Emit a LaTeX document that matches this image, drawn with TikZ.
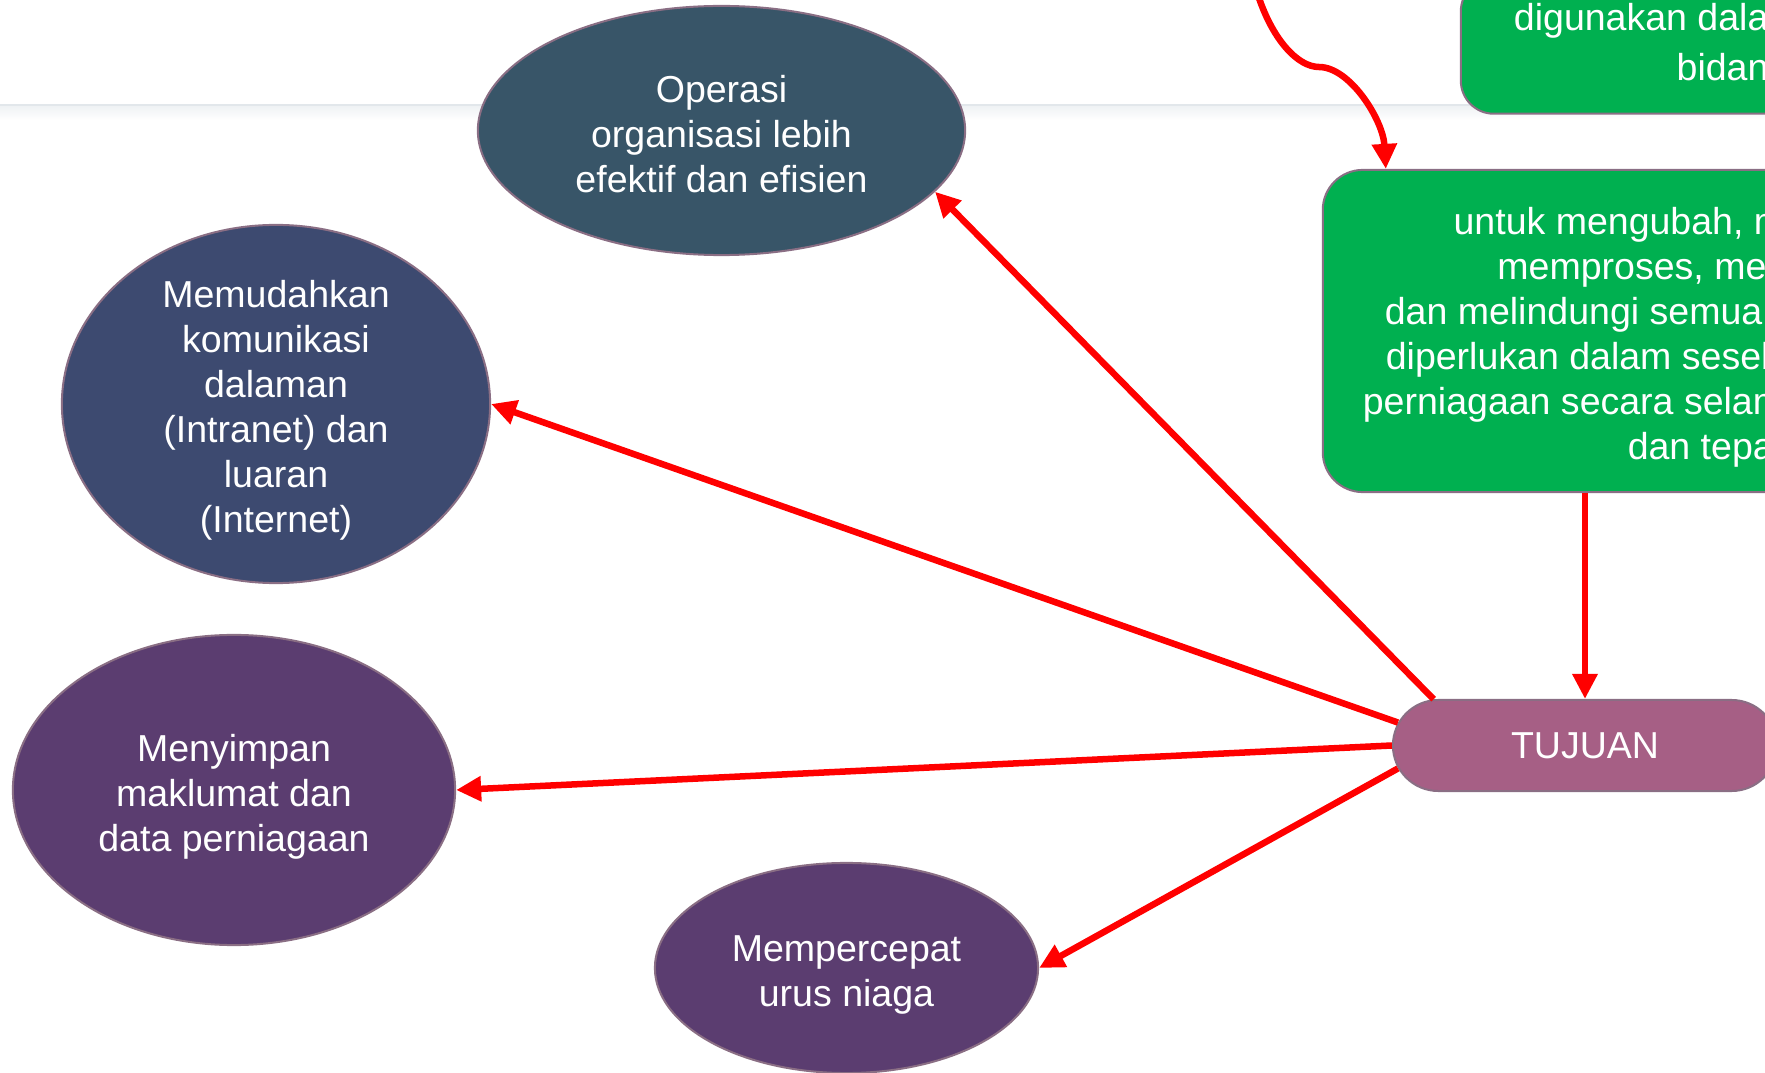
\documentclass[tikz,border=0pt]{standalone}
\usepackage{fontspec}
\setmainfont{Liberation Sans}
\usetikzlibrary{shapes.geometric, shapes.misc, arrows.meta}
\definecolor{opsblue}{RGB}{56,85,104}
\definecolor{komblue}{RGB}{61,74,112}
\definecolor{plum}{RGB}{91,61,112}
\definecolor{goalpink}{RGB}{166,95,133}
\definecolor{infogreen}{RGB}{0,176,80}
\definecolor{edgemauve}{RGB}{138,110,132}
\definecolor{arrowred}{RGB}{255,0,0}
\definecolor{rulegrey}{RGB}{226,231,235}
% taller first line, so the text sits a little lower
\newcommand{\firstlift}[1][11.5pt]{\rule{0pt}{#1}}
\tikzset{
    % ellipse bubble round the goal
    bubble/.style = {ellipse, draw=edgemauve, line width=0.02cm, fill=#1, text=white, align=center, inner sep=-4pt, font=\fontsize{10.67}{12.8}\selectfont},
    % green text box
    info box/.style = {rectangle, rounded corners=#1, draw=edgemauve, line width=0.02cm, fill=infogreen, text=white, align=center},
    % thick red connector
    red arrow/.style = {draw=arrowred, line width=0.065cm, -{Triangle[length=0.25cm, width=0.24cm]}}
}

\begin{document}
\begin{tikzpicture}[x=0.01cm, y=-0.01cm]
        \useasboundingbox (0,0) rectangle (1765,1073);
        % faint header rule behind everything
        \fill[top color=rulegrey!55, bottom color=white] (0,106) rectangle (1765,120);
        \draw[rulegrey, line width=0.02cm] (0,105) -- (1765,105);
        % green text boxes
        \node[info box=0.33cm, minimum width=5.44cm, minimum height=1.354cm, font=\fontsize{10.67}{14.2}\selectfont] (guna) at (1733,46) {digunakan dalam pelbagai\\bidang};
        \node[info box=0.4cm, minimum width=7.66cm, minimum height=3.22cm, font=\fontsize{10.67}{12.8}\selectfont] (takrif) at (1706,331) {\firstlift untuk mengubah, menyimpan,\\memproses, menghantar\\dan melindungi semua maklumat yang\\diperlukan dalam sesebuah organisasi\\perniagaan secara selamat, cepat, cekap\\dan tepat};
        % goal node
        \node[rounded rectangle, draw=edgemauve, line width=0.02cm, fill=goalpink, text=white, inner sep=0pt, minimum width=3.84cm, minimum height=0.91cm, font=\fontsize{10.67}{12.8}\selectfont] (tujuan) at (1585,745.5) {TUJUAN};
        % bubbles
        \node[bubble=opsblue, minimum width=4.87cm, minimum height=2.49cm] (operasi) at (721.5,130.5) {\firstlift[9.6pt]Operasi\\organisasi lebih\\efektif dan efisien};
        \node[bubble=komblue, minimum width=4.28cm, minimum height=3.58cm] (komunikasi) at (276,404) {\firstlift Memudahkan\\komunikasi\\dalaman\\(Intranet) dan\\luaran\\(Internet)};
        \node[bubble=plum, minimum width=4.42cm, minimum height=3.10cm] (simpan) at (234,790) {\firstlift Menyimpan\\maklumat dan\\data perniagaan};
        \node[bubble=plum, minimum width=3.83cm, minimum height=2.10cm] (urusniaga) at (846.5,968) {\firstlift Mempercepat\\urus niaga};
        % curved arrow coming in from above
        \coordinate (atas) at (1257,-8);
        \coordinate (lekuk) at (1319,67);
        \draw[red arrow] (atas) .. controls (1272,40) and (1298,67) .. (lekuk) .. controls (1350,67) and (1383,120) .. ([xshift=0.64cm]takrif.north west);
        % arrows into and out of the goal
        \draw[red arrow] (takrif.south -| tujuan.north) -- (tujuan.north);
        \draw[red arrow] (tujuan.163) -- (operasi.-16);
        \draw[red arrow] (tujuan.173) -- (komunikasi.east);
        \draw[red arrow] (tujuan.west) -- (simpan.east);
        \draw[red arrow] (tujuan.187) -- (urusniaga.east);
    \end{tikzpicture}
\end{document}
